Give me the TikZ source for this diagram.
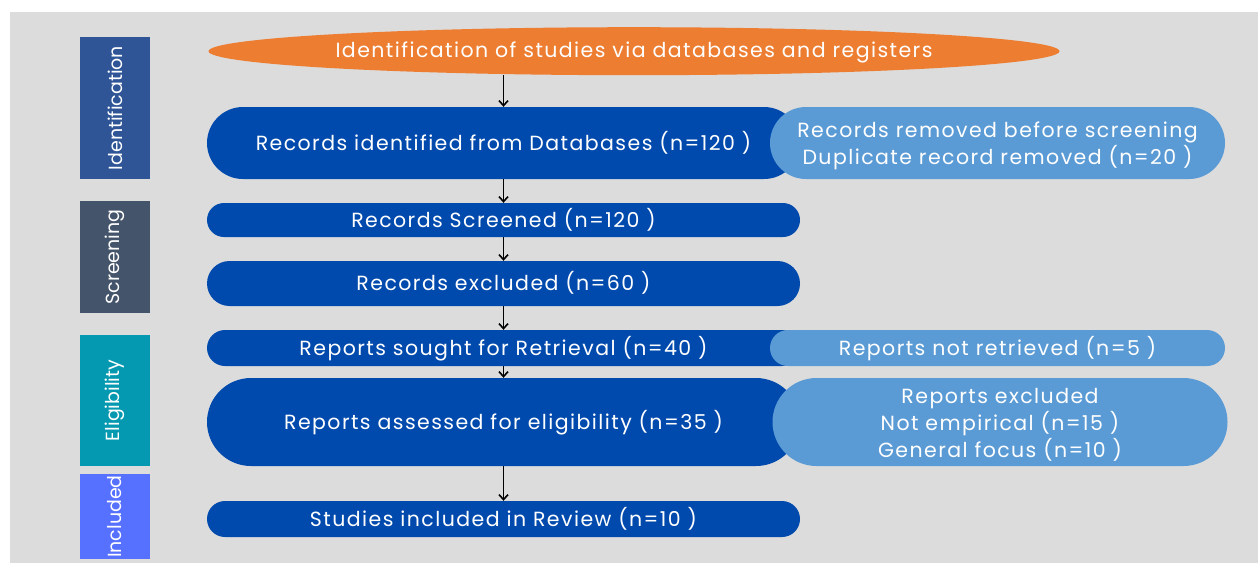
\documentclass[tikz,border=0pt]{standalone}
\usepackage{fontspec}
\setmainfont{Poppins}
\newfontfamily\boxfont[LetterSpace=7]{Poppins}
\usetikzlibrary{shapes.geometric,arrows.meta}
\definecolor{bgray}{HTML}{DCDCDC}
\definecolor{orng}{HTML}{ED7D31}
\definecolor{dblue}{HTML}{004AAD}
\definecolor{lblue}{HTML}{5B9BD5}
\definecolor{stIdent}{HTML}{2F5597}
\definecolor{stScreen}{HTML}{44546A}
\definecolor{stElig}{HTML}{0499B0}
\definecolor{stIncl}{HTML}{5670FF}
% taller first line pushes stacked text slightly down inside its box
\newcommand{\firstline}{\rule{0pt}{21pt}}
\tikzset{
  txt/.style={text=white, font=\boxfont\fontsize{20.5}{27}\selectfont, align=center, inner sep=0pt},
  oneline/.style={text height=15pt, text depth=1pt},
  mainbox/.style={txt, oneline, fill=dblue, minimum width=593pt},
  sidebox/.style={txt, fill=lblue, minimum width=455pt},
  stagebox/.style={text=white, font=\fontsize{19}{24}\selectfont, inner sep=0pt, rotate=90, minimum height=70pt},
  flow/.style={-{Straight Barb[length=5pt,width=9pt]}, line width=1.6pt, black},
}
\begin{document}
\begin{tikzpicture}[x=1pt,y=-1pt]
\useasboundingbox (0,0) rectangle (1258,563);
\fill[white] (0,0) rectangle (1258,563);
\fill[bgray] (10,12) rectangle (1258,563);

% phase labels on the left
\node[stagebox, fill=stIdent, minimum width=142pt] (sIdent) at (115,108) {Identification};
\node[stagebox, fill=stScreen, minimum width=112pt] (sScreen) at (115,257) {Screening};
\node[stagebox, fill=stElig, minimum width=131pt] (sElig) at (115,400.5) {Eligibility};
\node[stagebox, fill=stIncl, minimum width=85pt] (sIncl) at (115,516.5) {Included};

% header
\node[ellipse, fill=orng, txt, text height=15pt, text depth=2pt, minimum width=851pt, minimum height=48pt] (head) at (634,51.2) {Identification of studies via databases and registers};

% main flow
\node[mainbox, minimum height=72pt, rounded corners=36pt] (ident) at (503.5,143) {Records identified from Databases (n=120 )};
\node[mainbox, minimum height=34pt, rounded corners=17pt] (screen) at (503.5,220) {Records Screened (n=120 )};
\node[mainbox, minimum height=45pt, rounded corners=22.5pt] (excl) at (503.5,283.5) {Records excluded (n=60 )};
\node[mainbox, minimum height=36pt, rounded corners=18pt] (sought) at (503.5,348) {Reports sought for Retrieval (n=40 )};
\node[mainbox, minimum height=88pt, rounded corners=44pt] (assess) at (503.5,422) {Reports assessed for eligibility (n=35 )};
\node[mainbox, minimum height=36pt, rounded corners=18pt] (incl) at (503.5,519) {Studies included in Review (n=10 )};

% side boxes
\node[sidebox, minimum height=72pt, rounded corners=36pt] (removed) at (997.5,143) {\firstline Records removed before screening\\Duplicate record removed (n=20 )};
\node[sidebox, oneline, minimum height=36pt, rounded corners=18pt] (notret) at (997.5,348) {Reports not retrieved (n=5 )};
\node[sidebox, minimum height=88pt, rounded corners=44pt] (rexcl) at (1000,422) {\firstline Reports excluded\\Not empirical (n=15 )\\General focus (n=10 )};

% connectors
\draw[flow] (head.south -| ident.north) -- (ident.north);
\draw[flow] (ident) -- (screen);
\draw[flow] (screen) -- (excl);
\draw[flow] (excl) -- (sought);
\draw[flow] (sought) -- (assess);
\draw[flow] (assess) -- (incl);
\end{tikzpicture}
\end{document}
